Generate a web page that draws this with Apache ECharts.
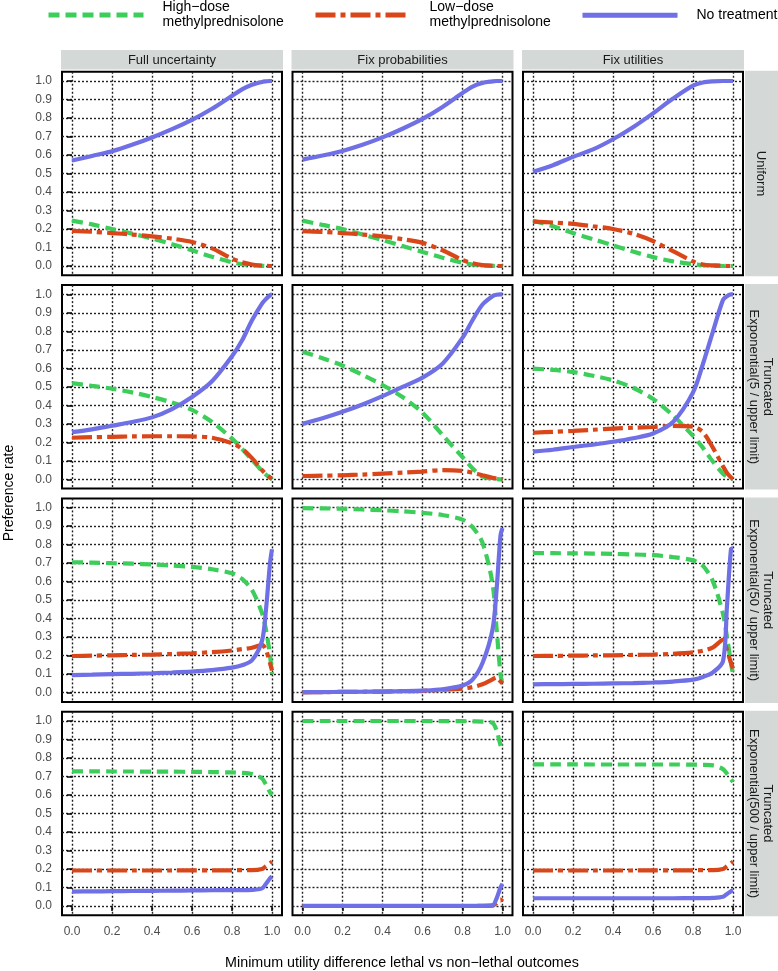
<!DOCTYPE html>
<html><head><meta charset="utf-8">
<script src="https://cdn.jsdelivr.net/npm/echarts@6/dist/echarts.min.js"></script>
<style>html,body{margin:0;padding:0;background:#fff;}#c{width:778px;height:971px;}</style>
</head><body><div id="c"></div>
<script>
// ---------- data ----------
const xs = [0, 0.1, 0.2, 0.3, 0.4, 0.5, 0.6, 0.7, 0.8, 0.85, 0.9, 0.95, 0.97, 0.99, 1.0];
const colLabels = ['Full uncertainty', 'Fix probabilities', 'Fix utilities'];
const rowLabels = ['Uniform', 'Truncated\nExponential(5 / upper limit)', 'Truncated\nExponential(50 / upper limit)', 'Truncated\nExponential(500 / upper limit)'];
const seriesNames = ['High\u2212dose\nmethylprednisolone', 'Low\u2212dose\nmethylprednisolone', 'No treatment'];
const yTicks = [0, 0.1, 0.2, 0.3, 0.4, 0.5, 0.6, 0.7, 0.8, 0.9, 1.0];
const xTicks = [0, 0.2, 0.4, 0.6, 0.8, 1.0];
const xTitle = 'Minimum utility difference lethal vs non\u2212lethal outcomes';
const yTitle = 'Preference rate';

// Row 1: Uniform
const hd_r1c1 = [0.245,0.225,0.2,0.175,0.148,0.118,0.085,0.05,0.02,0.01,0.004,0.001,0,0,0];
const ld_r1c1 = [0.19,0.185,0.178,0.17,0.16,0.148,0.13,0.095,0.04,0.02,0.008,0.002,0.001,0,0];
const nt_r1c1 = [0.57,0.595,0.62,0.655,0.695,0.74,0.79,0.85,0.92,0.955,0.98,0.995,0.998,1,1];
const hd_r1c2 = [0.245,0.222,0.2,0.17,0.14,0.108,0.076,0.045,0.018,0.008,0.003,0.001,0,0,0];
const ld_r1c2 = [0.188,0.184,0.178,0.17,0.16,0.145,0.125,0.085,0.032,0.015,0.005,0.001,0,0,0];
const nt_r1c2 = [0.575,0.597,0.622,0.655,0.695,0.742,0.795,0.86,0.935,0.97,0.99,0.998,1,1,1];
const hd_r1c3 = [0.245,0.215,0.178,0.145,0.112,0.078,0.048,0.025,0.01,0.005,0.002,0,0,0,0];
const ld_r1c3 = [0.24,0.235,0.228,0.215,0.2,0.175,0.135,0.08,0.025,0.008,0.003,0.001,0,0,0];
const nt_r1c3 = [0.51,0.545,0.59,0.63,0.685,0.75,0.825,0.905,0.975,0.992,0.998,1,1,1,1];
// Row 2: Truncated Exponential(5)
const hd_r2c1 = [0.52,0.505,0.49,0.47,0.445,0.415,0.375,0.31,0.22,0.165,0.105,0.045,0.025,0.008,0];
const ld_r2c1 = [0.225,0.228,0.23,0.232,0.233,0.233,0.232,0.225,0.195,0.165,0.115,0.05,0.028,0.01,0.005];
const nt_r2c1 = [0.255,0.27,0.29,0.31,0.335,0.38,0.445,0.53,0.665,0.75,0.86,0.95,0.975,0.995,1];
const hd_r2c2 = [0.69,0.655,0.615,0.565,0.51,0.445,0.36,0.24,0.12,0.06,0.015,0.003,0.001,0,0];
const ld_r2c2 = [0.018,0.02,0.022,0.026,0.031,0.036,0.042,0.05,0.046,0.036,0.022,0.008,0.004,0.001,0];
const nt_r2c2 = [0.3,0.33,0.365,0.405,0.45,0.5,0.55,0.625,0.765,0.86,0.945,0.99,0.998,1,1];
const hd_r2c3 = [0.598,0.592,0.58,0.56,0.535,0.495,0.435,0.345,0.235,0.17,0.095,0.03,0.015,0.004,0];
const ld_r2c3 = [0.252,0.257,0.262,0.268,0.274,0.279,0.283,0.289,0.285,0.255,0.17,0.07,0.035,0.01,0.003];
const nt_r2c3 = [0.15,0.16,0.175,0.188,0.203,0.222,0.248,0.31,0.47,0.625,0.8,0.97,0.99,1,1];
// Row 3: Truncated Exponential(50)
const hd_r3c1 = [0.705,0.703,0.7,0.697,0.693,0.687,0.68,0.667,0.645,0.615,0.555,0.43,0.34,0.2,0.1];
const ld_r3c1 = [0.198,0.2,0.202,0.204,0.206,0.209,0.213,0.219,0.228,0.235,0.243,0.258,0.23,0.16,0.12];
const nt_r3c1 = [0.095,0.097,0.1,0.102,0.105,0.109,0.114,0.122,0.135,0.148,0.175,0.28,0.45,0.7,0.775];
const hd_r3c2 = [0.997,0.996,0.994,0.99,0.986,0.98,0.972,0.96,0.935,0.895,0.81,0.59,0.35,0.1,0.04];
const ld_r3c2 = [0.002,0.003,0.004,0.005,0.006,0.008,0.01,0.015,0.022,0.03,0.045,0.072,0.082,0.06,0.05];
const nt_r3c2 = [0.003,0.003,0.004,0.005,0.006,0.008,0.011,0.018,0.038,0.07,0.16,0.34,0.55,0.85,0.89];
const hd_r3c3 = [0.755,0.754,0.753,0.752,0.75,0.747,0.743,0.733,0.715,0.685,0.6,0.425,0.3,0.16,0.1];
const ld_r3c3 = [0.198,0.199,0.2,0.201,0.202,0.204,0.206,0.21,0.218,0.227,0.245,0.285,0.23,0.16,0.13];
const nt_r3c3 = [0.045,0.046,0.047,0.048,0.05,0.052,0.055,0.06,0.07,0.085,0.11,0.17,0.47,0.775,0.78];
// Row 4: Truncated Exponential(500)
const hd_r4c1 = [0.728,0.728,0.727,0.727,0.726,0.726,0.725,0.724,0.722,0.72,0.713,0.69,0.655,0.615,0.6];
const ld_r4c1 = [0.192,0.192,0.192,0.192,0.192,0.192,0.193,0.193,0.193,0.194,0.194,0.2,0.215,0.232,0.24];
const nt_r4c1 = [0.078,0.079,0.08,0.081,0.082,0.083,0.084,0.085,0.086,0.086,0.087,0.095,0.12,0.15,0.16];
const hd_r4c2 = [1,1,1,1,1,1,1,0.999,0.999,0.998,0.997,0.99,0.95,0.87,0.84];
const ld_r4c2 = [0,0,0,0,0,0,0,0,0,0,0.001,0.002,0.015,0.035,0.025];
const nt_r4c2 = [0.001,0.001,0.001,0.001,0.001,0.001,0.001,0.001,0.001,0.001,0.001,0.003,0.04,0.1,0.12];
const hd_r4c3 = [0.766,0.766,0.766,0.765,0.765,0.765,0.765,0.765,0.764,0.763,0.76,0.74,0.715,0.685,0.67];
const ld_r4c3 = [0.192,0.192,0.192,0.192,0.192,0.192,0.193,0.193,0.193,0.194,0.194,0.2,0.215,0.232,0.24];
const nt_r4c3 = [0.042,0.042,0.042,0.042,0.042,0.042,0.042,0.042,0.043,0.043,0.044,0.05,0.065,0.08,0.085];

const panels = [
  [[hd_r1c1, ld_r1c1, nt_r1c1], [hd_r1c2, ld_r1c2, nt_r1c2], [hd_r1c3, ld_r1c3, nt_r1c3]],
  [[hd_r2c1, ld_r2c1, nt_r2c1], [hd_r2c2, ld_r2c2, nt_r2c2], [hd_r2c3, ld_r2c3, nt_r2c3]],
  [[hd_r3c1, ld_r3c1, nt_r3c1], [hd_r3c2, ld_r3c2, nt_r3c2], [hd_r3c3, ld_r3c3, nt_r3c3]],
  [[hd_r4c1, ld_r4c1, nt_r4c1], [hd_r4c2, ld_r4c2, nt_r4c2], [hd_r4c3, ld_r4c3, nt_r4c3]]
];

// ---------- styling / layout ----------
const FONT = '"Liberation Sans", Arial, Helvetica, sans-serif';
const colors = ['#3ccd5a', '#d8461a', '#6f6fe6'];
const dashes = [[11, 6], [20, 5, 5, 5], 'solid'];
const colLeft = [62, 292.5, 523];
const panelW = 220;
const rowTop = [71.75, 285.1, 498.4, 711.75];
const panelH = 203.5;
const stripColor = '#d4d9d7';
const legendLeft = [46, 313, 580];
const legendTop = [0, 0, 4];

const grids = [], xAxes = [], yAxes = [], series = [], graphics = [];
const gridLine = {show: true, lineStyle: {type: [2, 2], color: '#222', width: 1.4}};
let idx = 0;
for (let r = 0; r < 4; r++) {
  for (let c = 0; c < 3; c++) {
    grids.push({left: colLeft[c], top: rowTop[r], width: panelW, height: panelH, show: true,
      backgroundColor: '#fff', borderColor: '#000', borderWidth: 2, containLabel: false});
    xAxes.push({type: 'value', gridIndex: idx, min: -0.05, max: 1.05,
      axisLine: {show: false},
      axisTick: {show: r === 3, customValues: xTicks, length: 5, lineStyle: {color: '#000', width: 1.5}},
      axisLabel: {show: r === 3, customValues: xTicks, margin: 10, fontSize: 12, fontFamily: FONT, color: '#4d4d4d',
        formatter: v => v.toFixed(1)},
      splitLine: gridLine
    });
    yAxes.push({type: 'value', gridIndex: idx, min: -0.05, max: 1.05,
      axisLine: {show: false},
      axisTick: {show: c === 0, customValues: yTicks, length: 5, lineStyle: {color: '#000', width: 1.5}},
      axisLabel: {show: c === 0, customValues: yTicks, margin: 10, fontSize: 12, fontFamily: FONT, color: '#4d4d4d',
        formatter: v => v.toFixed(1)},
      splitLine: gridLine
    });
    for (let s = 0; s < 3; s++) {
      const vals = panels[r][c][s];
      series.push({
        name: seriesNames[s], type: 'line', xAxisIndex: idx, yAxisIndex: idx,
        data: xs.map((x, i) => [x, vals[i]]),
        showSymbol: false, symbol: 'none', smooth: 0.3, clip: false,
        lineStyle: {width: 4.2, color: colors[s], type: dashes[s]},
        itemStyle: {color: colors[s]}, z: 2 + s, animation: false, silent: true
      });
    }
    idx++;
  }
}

// strips
for (let c = 0; c < 3; c++) {
  graphics.push({type: 'rect', shape: {x: colLeft[c] - 1, y: 50, width: panelW + 2, height: 19.5}, style: {fill: stripColor}, silent: true});
  graphics.push({type: 'text', x: colLeft[c] + panelW / 2, y: 60, silent: true,
    style: {text: colLabels[c], align: 'center', verticalAlign: 'middle', fontSize: 13, fontFamily: FONT, fill: '#1a1a1a'}});
}
for (let r = 0; r < 4; r++) {
  graphics.push({type: 'rect', shape: {x: 745, y: rowTop[r] - 1, width: 40, height: panelH + 2}, style: {fill: stripColor}, silent: true});
  graphics.push({type: 'text', x: 761, y: rowTop[r] + panelH / 2, rotation: -Math.PI / 2, silent: true,
    style: {text: rowLabels[r], align: 'center', verticalAlign: 'middle', fontSize: 13, lineHeight: 14, fontFamily: FONT, fill: '#1a1a1a'}});
}
graphics.push({type: 'text', x: 402, y: 963, silent: true,
  style: {text: xTitle, align: 'center', verticalAlign: 'middle', fontSize: 14.3, fontFamily: FONT, fill: '#000'}});
graphics.push({type: 'text', x: 9, y: 493, rotation: Math.PI / 2, silent: true,
  style: {text: yTitle, align: 'center', verticalAlign: 'middle', fontSize: 14, fontFamily: FONT, fill: '#000'}});

const legends = seriesNames.map((n, i) => ({
  data: [n], left: legendLeft[i], top: legendTop[i], itemWidth: 95, itemHeight: 28, padding: 0,
  itemStyle: {opacity: 0},
  lineStyle: {width: 5},
  textStyle: {fontSize: 14, lineHeight: 15, fontFamily: FONT, color: '#000', padding: [0, 0, 0, 14]},
  selectedMode: false
}));

const chart = echarts.init(document.getElementById('c'), null, {renderer: 'canvas'});
chart.setOption({
  animation: false,
  backgroundColor: '#fff',
  legend: legends,
  grid: grids, xAxis: xAxes, yAxis: yAxes, series: series,
  graphic: graphics
});
</script></body></html>
